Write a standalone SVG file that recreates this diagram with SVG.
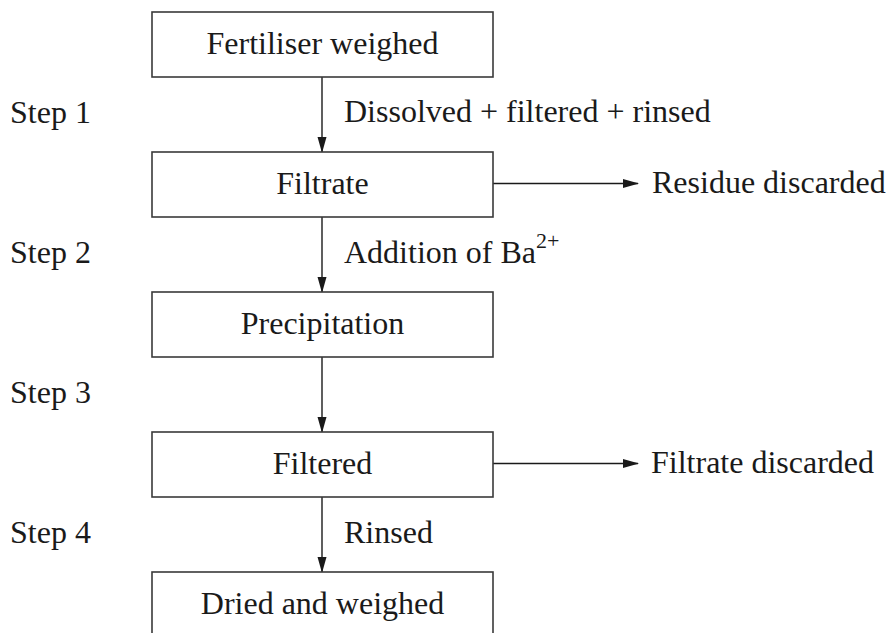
<svg xmlns="http://www.w3.org/2000/svg" width="889" height="633" viewBox="0 0 889 633">
<style>
.box{fill:#fff;stroke:#3a3a3a;stroke-width:1.6}
.t{fill:#1a1a1a;font-family:"Liberation Serif",serif;font-size:32px}
.ln{stroke:#1a1a1a;stroke-width:1.4;fill:none}
</style>
<defs>
<marker id="ah" markerWidth="16" markerHeight="10" refX="15" refY="5" orient="auto" markerUnits="userSpaceOnUse">
<path d="M0,0.5 L16,5 L0,9.5 Z" fill="#1a1a1a"/>
</marker>
</defs>
<rect width="889" height="633" fill="#fff"/>
<g id="connectors">
<line class="ln" x1="322" y1="77" x2="322" y2="152" marker-end="url(#ah)"/>
<line class="ln" x1="322" y1="217" x2="322" y2="292" marker-end="url(#ah)"/>
<line class="ln" x1="322" y1="357" x2="322" y2="432" marker-end="url(#ah)"/>
<line class="ln" x1="322" y1="497" x2="322" y2="572" marker-end="url(#ah)"/>
<line class="ln" x1="493" y1="183.5" x2="638" y2="183.5" marker-end="url(#ah)"/>
<line class="ln" x1="493" y1="463.5" x2="638" y2="463.5" marker-end="url(#ah)"/>
<text class="t" x="344" y="122">Dissolved + filtered + rinsed</text>
<text class="t" x="344" y="263">Addition of Ba<tspan font-size="22" dy="-15">2+</tspan></text>
<text class="t" x="344" y="543">Rinsed</text>
<text class="t" x="652" y="193">Residue discarded</text>
<text class="t" x="651" y="473">Filtrate discarded</text>
</g>
<g id="steps">
<text class="t" x="10" y="123">Step 1</text>
<text class="t" x="10" y="263">Step 2</text>
<text class="t" x="10" y="403">Step 3</text>
<text class="t" x="10" y="543">Step 4</text>
</g>
<g id="n1"><rect class="box" x="152" y="12" width="341" height="65"/><text class="t" text-anchor="middle" x="322.5" y="54">Fertiliser weighed</text></g>
<g id="n2"><rect class="box" x="152" y="152" width="341" height="65"/><text class="t" text-anchor="middle" x="322.5" y="194">Filtrate</text></g>
<g id="n3"><rect class="box" x="152" y="292" width="341" height="65"/><text class="t" text-anchor="middle" x="322.5" y="334">Precipitation</text></g>
<g id="n4"><rect class="box" x="152" y="432" width="341" height="65"/><text class="t" text-anchor="middle" x="322.5" y="474">Filtered</text></g>
<g id="n5"><rect class="box" x="152" y="572" width="341" height="70"/><text class="t" text-anchor="middle" x="322.5" y="614">Dried and weighed</text></g>
</svg>
